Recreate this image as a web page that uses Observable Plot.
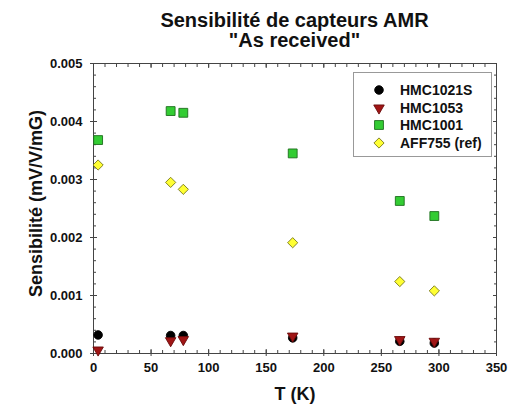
<!DOCTYPE html>
<html>
<head>
<meta charset="utf-8">
<script src="https://cdn.jsdelivr.net/npm/d3@7"></script>
<script src="https://cdn.jsdelivr.net/npm/@observablehq/plot@0.6"></script>
<style>
  body { margin: 0; background: #fff; font-family: "Liberation Sans", Arial, sans-serif; }
  #wrap { position: relative; width: 513px; }
  #title { height: 52px; text-align: center; font-weight: bold; font-size: 20px; line-height: 20px; padding-left: 76px; box-sizing: border-box; padding-top: 10px; color: #111; }
  #legend { position: absolute; left: 353px; top: 72px; width: 139px; height: 85px; border: 1px solid #999; box-sizing: border-box; background: #fff; }
  .item { position: absolute; left: 0; height: 18px; font-weight: bold; font-size: 14px; color: #111; }
  .item svg { position: absolute; left: 16px; top: 0; }
  .item span { position: absolute; left: 46px; top: 0; white-space: nowrap; line-height: 18px; }
</style>
</head>
<body>
<div id="wrap">
  <div id="title">Sensibilité de capteurs AMR<br>"As received"</div>
  <div id="chart"></div>
  <div id="legend"></div>
</div>
<script>
const temps = [4, 67, 78, 173, 266, 296];
const hmc1021s = [0.00032, 0.00031, 0.00031, 0.00027, 0.00021, 0.00018];
const hmc1053 = [0.00006, 0.00022, 0.00024, 0.00030, 0.00024, 0.00021];
const hmc1001 = [0.00368, 0.00418, 0.00415, 0.00345, 0.00263, 0.00237];
const aff755 = [0.00325, 0.00295, 0.00283, 0.00191, 0.00124, 0.00108];
const seriesNames = ["HMC1021S", "HMC1053", "HMC1001", "AFF755 (ref)"];
const xTicks = [0, 50, 100, 150, 200, 250, 300, 350];
const yTicks = [0, 0.001, 0.002, 0.003, 0.004, 0.005];
const xMinor = d3.range(0, 351, 10);
const yMinor = d3.range(0, 0.00501, 0.0002);

const styles = [
  {symbol: "circle", fill: "#000000", stroke: "#000000", r: 4.3, rotate: 0},
  {symbol: "triangle", fill: "#a01515", stroke: "#6a0a0a", r: 3.9, rotate: 180},
  {symbol: "square", fill: "#33cc33", stroke: "#1d6e1d", r: 5.0, rotate: 0},
  {symbol: "diamond2", fill: "#ffff33", stroke: "#77771a", r: 4.6, rotate: 0}
];
const allValues = [hmc1021s, hmc1053, hmc1001, aff755];
const data = [];
allValues.forEach((vals, si) => vals.forEach((v, i) => data.push({series: seriesNames[si], si, T: temps[i], S: v})));

const fmtY = d => d3.format(".3f")(d);
const none = () => "";
const axisFont = {fontSize: 13, fontWeight: "bold"};

const marks = [
  Plot.axisX({ticks: xMinor, tickSize: -3, tickFormat: none, anchor: "bottom", label: null, stroke: "#444"}),
  Plot.axisX({ticks: xMinor, tickSize: -3, tickFormat: none, anchor: "top", label: null, stroke: "#444"}),
  Plot.axisY({ticks: yMinor, tickSize: -3, tickFormat: none, anchor: "left", label: null, stroke: "#444"}),
  Plot.axisY({ticks: yMinor, tickSize: -3, tickFormat: none, anchor: "right", label: null, stroke: "#444"}),
  Plot.axisX({ticks: xTicks, tickSize: -4, tickFormat: none, anchor: "bottom", label: null, stroke: "#444"}),
  Plot.axisX({ticks: xTicks, tickSize: -4, tickFormat: none, anchor: "top", label: null, stroke: "#444"}),
  Plot.axisY({ticks: yTicks, tickSize: -4, tickFormat: none, anchor: "left", label: null, stroke: "#444"}),
  Plot.axisY({ticks: yTicks, tickSize: -4, tickFormat: none, anchor: "right", label: null, stroke: "#444"}),
  Plot.axisX({ticks: xTicks, tickSize: 3, tickPadding: 6, anchor: "bottom", label: "T (K)", labelAnchor: "center", labelArrow: "none", labelOffset: 46, stroke: "#444", ...axisFont, fill: "#111"}),
  Plot.axisY({ticks: yTicks, tickSize: 3, tickPadding: 8, tickFormat: fmtY, anchor: "left", label: "Sensibilité (mV/V/mG)", labelAnchor: "center", labelArrow: "none", labelOffset: 64, stroke: "#444", ...axisFont, fill: "#111"}),
  Plot.frame({stroke: "#444"}),
  ...styles.map((st, si) => Plot.dot(data.filter(d => d.si === si), {
    x: "T", y: "S", symbol: () => st.symbol, r: st.r, fill: st.fill, stroke: st.stroke, strokeWidth: 0.9, rotate: st.rotate
  }))
];

const chart = Plot.plot({
  width: 513,
  height: 360,
  marginTop: 11,
  marginBottom: 59,
  marginLeft: 93,
  marginRight: 17,
  style: {fontFamily: "Liberation Sans, Arial, sans-serif", background: "#fff"},
  x: {domain: [0, 350]},
  y: {domain: [0, 0.005]},
  symbol: {type: "identity"},
  marks
});
chart.querySelectorAll("g[aria-label='x-axis label'] text").forEach(t => { t.setAttribute("font-size", "18"); t.style.fontSize = "18px"; });
chart.querySelectorAll("g[aria-label='y-axis label'] text").forEach(t => {
  t.setAttribute("font-size", "18"); t.style.fontSize = "18px";
  const tr = t.getAttribute("transform");
  if (tr) t.setAttribute("transform", tr.replace(/translate\(([^,]+),([^)]+)\)/, (m, a, b) => `translate(${a},${(+b - 5).toFixed(1)})`));
});
document.getElementById("chart").appendChild(chart);

const legend = document.getElementById("legend");
seriesNames.forEach((name, si) => {
  const st = styles[si];
  const item = document.createElement("div");
  item.className = "item";
  item.style.top = (8 + si * 17.5) + "px";
  const sz = 18;
  const sym = {circle: d3.symbolCircle, triangle: d3.symbolTriangle, square: d3.symbolSquare, diamond2: d3.symbolDiamond2}[st.symbol];
  const path = d3.symbol(sym, Math.PI * st.r * st.r)();
  item.innerHTML = `<svg width="${sz}" height="${sz}"><path d="${path}" transform="translate(${sz/2},${sz/2}) rotate(${st.rotate})" fill="${st.fill}" stroke="${st.stroke}" stroke-width="0.9"/></svg><span>${name}</span>`;
  legend.appendChild(item);
});
</script>
</body>
</html>
